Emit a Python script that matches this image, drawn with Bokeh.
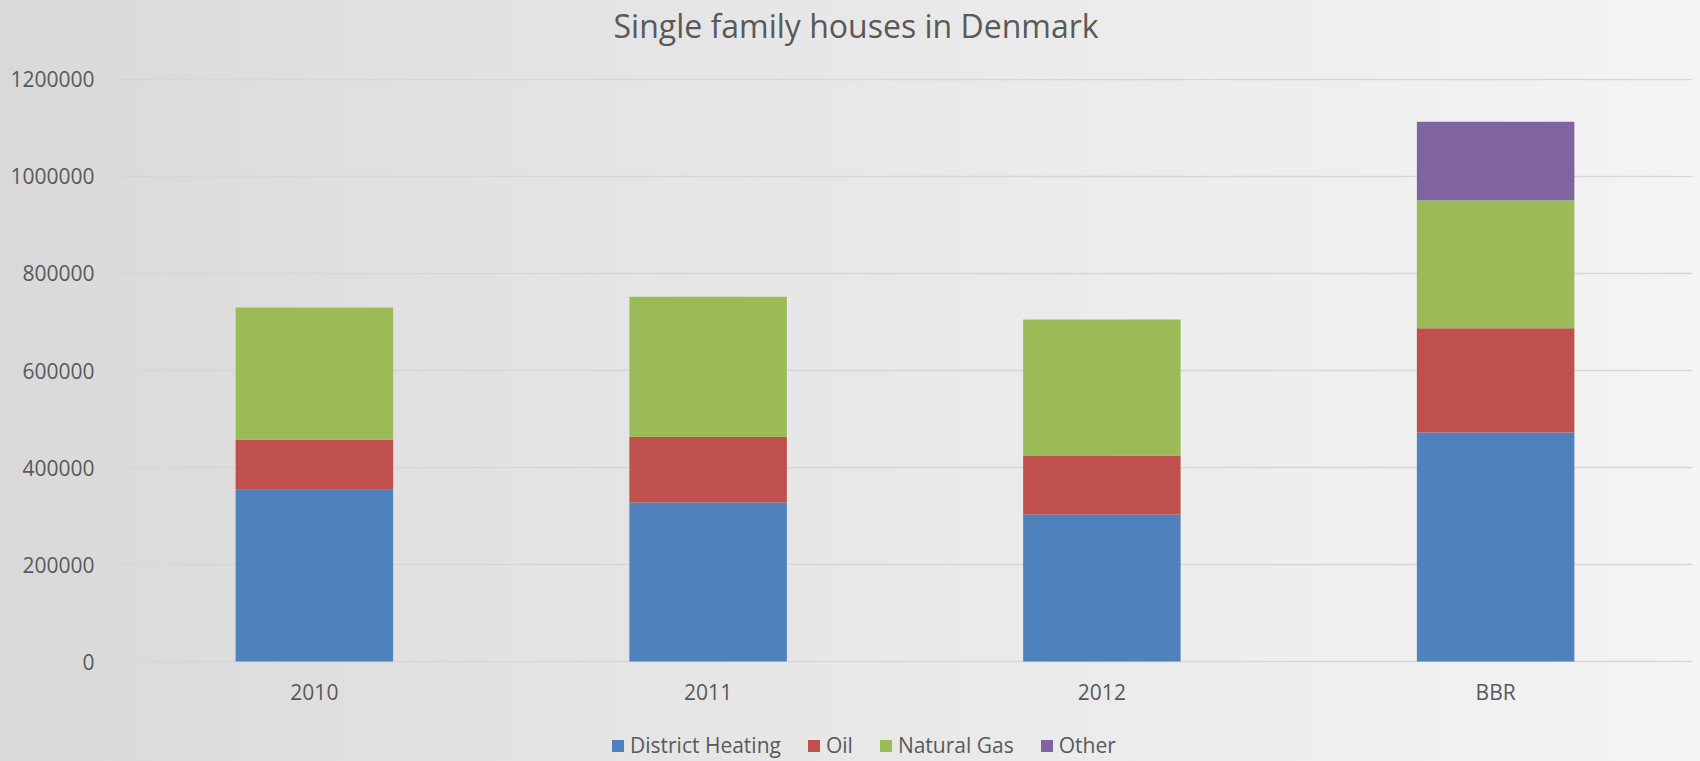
from bokeh.plotting import figure
from bokeh.layouts import column
from bokeh.models import (Range1d, FactorRange, Legend, LegendItem, BasicTickFormatter,
                          FixedTicker)
from bokeh.embed import file_html
from bokeh.resources import INLINE

categories = ["2010", "2011", "2012", "BBR"]
district_heating = [354000, 328000, 303000, 472000]
oil = [103000, 135000, 122000, 215000]
natural_gas = [273000, 289000, 280000, 264000]
other = [0, 0, 0, 162000]
series_names = ["District Heating", "Oil", "Natural Gas", "Other"]
y_ticks = [0, 200000, 400000, 600000, 800000, 1000000, 1200000]

colors = ["#4f81bd", "#c0504d", "#9bbb59", "#8064a2"]
FONT = "Open Sans"
TXT = "#595959"
BG = {"background": "linear-gradient(to right, #d9d9d9 0%, #e4e4e4 35%, #f4f4f4 100%)"}

data = {"cat": categories, "District Heating": district_heating, "Oil": oil,
        "Natural Gas": natural_gas, "Other": other}


def clear(fig):
    fig.background_fill_alpha = 0
    fig.border_fill_alpha = 0
    fig.outline_line_color = None


# title strip
tf = figure(width=1700, height=60, x_range=Range1d(0, 1), y_range=Range1d(0, 1),
            output_backend="svg", toolbar_location=None,
            min_border_left=117, min_border_right=8, min_border_top=0, min_border_bottom=0,
            styles=BG)
clear(tf)
tf.axis.visible = False
tf.grid.visible = False
tf.title.text = "Single family houses in Denmark"
tf.title.align = "left"
tf.title.offset = 496
tf.title.vertical_align = "top"
tf.title.text_font = FONT
tf.title.text_font_size = "32px"
tf.title.text_font_style = "normal"
tf.title.text_color = TXT
tf.title.standoff = 6

# main chart
p = figure(width=1700, height=655, x_range=FactorRange(*categories, range_padding=0),
           y_range=Range1d(-2000, 1202000), output_backend="svg", toolbar_location=None,
           min_border_left=117, min_border_right=8, min_border_top=18, min_border_bottom=53,
           styles=BG)
clear(p)

renderers = p.vbar_stack(series_names, x="cat", width=0.4, color=colors, source=data,
                         line_color=None)

for ax in (p.xaxis[0], p.yaxis[0]):
    ax.axis_line_color = None
    ax.major_tick_line_color = None
    ax.minor_tick_line_color = None
    ax.major_label_text_font = FONT
    ax.major_label_text_font_size = "21px"
    ax.major_label_text_color = TXT

p.yaxis[0].ticker = FixedTicker(ticks=y_ticks)
p.yaxis[0].formatter = BasicTickFormatter(use_scientific=False)
p.yaxis[0].major_label_standoff = 17
p.xaxis[0].major_label_standoff = 9

p.xgrid.grid_line_color = None
p.ygrid.grid_line_color = "#d6d6d6"
p.ygrid.grid_line_width = 1.5
p.ygrid.ticker = FixedTicker(ticks=y_ticks)

# legend strip below the chart (keys only; the hidden sample lies outside the visible range)
lg = figure(width=1700, height=46, x_range=Range1d(0, 1), y_range=Range1d(0, 1),
            output_backend="svg", toolbar_location=None,
            min_border_left=0, min_border_right=0, min_border_top=0, min_border_bottom=0,
            styles=BG)
clear(lg)
lg.axis.visible = False
lg.grid.visible = False
key_renderers = [lg.vbar(x=[-5], bottom=[-5], top=[-4], width=0.1, color=c, line_color=None)
                 for c in colors]

legend = Legend(items=[LegendItem(label=n, renderers=[r]) for n, r in zip(series_names, key_renderers)],
                orientation="horizontal", location=(493, 2),
                background_fill_alpha=0, border_line_color=None,
                label_text_font=FONT, label_text_font_size="21px", label_text_color=TXT,
                glyph_width=15, glyph_height=15, label_standoff=5, spacing=25,
                padding=0, margin=0, label_height=20)
lg.add_layout(legend, "center")

layout = column(tf, p, lg, spacing=0)
open("out.html", "w").write(file_html(layout, INLINE))
